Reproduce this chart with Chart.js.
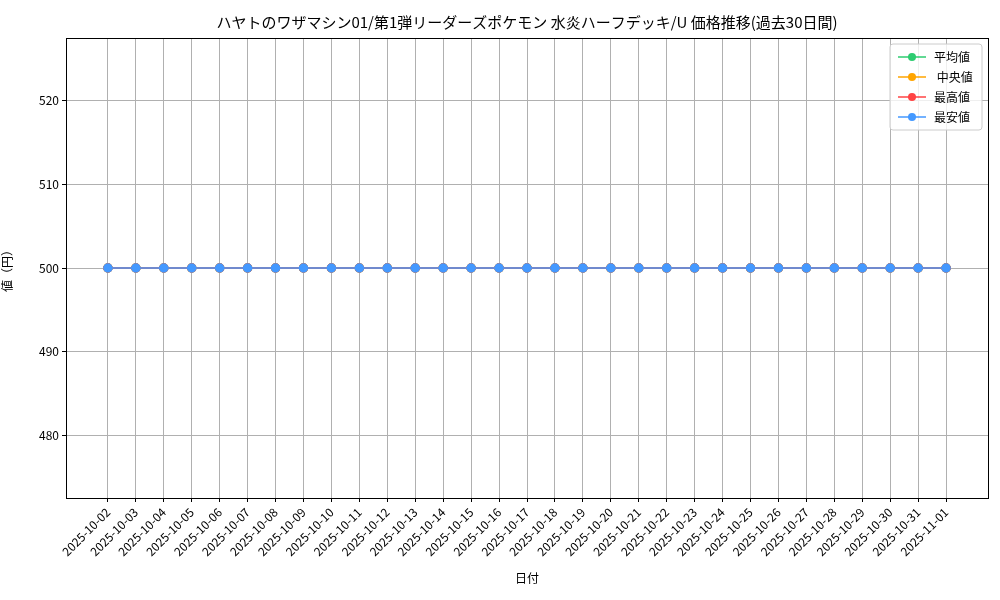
<!DOCTYPE html>
<html>
<head>
<meta charset="utf-8">
<script src="https://cdn.jsdelivr.net/npm/chart.js@4"></script>
<style>
  body { margin: 0; background: #fff; }
  #wrap { width: 1000px; height: 600px; }
</style>
</head>
<body>
<div id="wrap"><canvas id="chart" width="1000" height="600"></canvas></div>
<script>
const FONT = "'Noto Sans CJK JP', 'DejaVu Sans', sans-serif";
const TITLE = "ハヤトのワザマシン01/第1弾リーダーズポケモン 水炎ハーフデッキ/U 価格推移(過去30日間)";

const dates = [
  "2025-10-02", "2025-10-03", "2025-10-04", "2025-10-05", "2025-10-06", "2025-10-07",
  "2025-10-08", "2025-10-09", "2025-10-10", "2025-10-11", "2025-10-12", "2025-10-13",
  "2025-10-14", "2025-10-15", "2025-10-16", "2025-10-17", "2025-10-18", "2025-10-19",
  "2025-10-20", "2025-10-21", "2025-10-22", "2025-10-23", "2025-10-24", "2025-10-25",
  "2025-10-26", "2025-10-27", "2025-10-28", "2025-10-29", "2025-10-30", "2025-10-31",
  "2025-11-01",
];
const avgPrices = [500, 500, 500, 500, 500, 500, 500, 500, 500, 500, 500, 500, 500, 500, 500, 500,
  500, 500, 500, 500, 500, 500, 500, 500, 500, 500, 500, 500, 500, 500, 500];
const medianPrices = [500, 500, 500, 500, 500, 500, 500, 500, 500, 500, 500, 500, 500, 500, 500, 500,
  500, 500, 500, 500, 500, 500, 500, 500, 500, 500, 500, 500, 500, 500, 500];
const maxPrices = [500, 500, 500, 500, 500, 500, 500, 500, 500, 500, 500, 500, 500, 500, 500, 500,
  500, 500, 500, 500, 500, 500, 500, 500, 500, 500, 500, 500, 500, 500, 500];
const minPrices = [500, 500, 500, 500, 500, 500, 500, 500, 500, 500, 500, 500, 500, 500, 500, 500,
  500, 500, 500, 500, 500, 500, 500, 500, 500, 500, 500, 500, 500, 500, 500];
const yTicks = [480, 490, 500, 510, 520];

// order: 小さいほど手前に描かれる(最安値が一番上)
function series(label, values, color, order) {
  return {
    label: label,
    data: values.map((v, i) => ({ x: i, y: v })),
    borderColor: color,
    backgroundColor: color,
    borderWidth: 1.5,
    pointRadius: 4,
    pointHoverRadius: 4,
    tension: 0,
    order: order,
  };
}

// タイトル・枠線・凡例を描くプラグイン
const extras = {
  id: "extras",
  afterDraw(chart) {
    const ctx = chart.ctx;
    const a = chart.chartArea;
    ctx.save();
    ctx.strokeStyle = "#000";
    ctx.lineWidth = 1;
    ctx.strokeRect(a.left + 0.5, a.top + 0.5, a.right - a.left, a.bottom - a.top);

    ctx.fillStyle = "#000";
    ctx.font = "15px " + FONT;
    ctx.textAlign = "center";
    ctx.textBaseline = "middle";
    ctx.fillText(TITLE, (a.left + a.right) / 2, 22);

    // 凡例
    const items = [...chart.data.datasets].sort((p, q) => q.order - p.order);
    const bw = 92, bh = 86;
    const bx = a.right - bw - 6, by = a.top + 6;
    ctx.fillStyle = "rgba(255,255,255,0.8)";
    ctx.strokeStyle = "#ccc";
    ctx.beginPath();
    ctx.roundRect(bx, by, bw, bh, 3);
    ctx.fill();
    ctx.stroke();
    ctx.font = "12px " + FONT;
    ctx.textAlign = "left";
    items.forEach((ds, i) => {
      const y = by + 13 + i * 20;
      ctx.strokeStyle = ds.borderColor;
      ctx.lineWidth = 1.5;
      ctx.beginPath();
      ctx.moveTo(bx + 8, y);
      ctx.lineTo(bx + 36, y);
      ctx.stroke();
      ctx.fillStyle = ds.borderColor;
      ctx.beginPath();
      ctx.arc(bx + 22, y, 4, 0, Math.PI * 2);
      ctx.fill();
      ctx.fillStyle = "#000";
      ctx.fillText(ds.label, bx + 44, y);
    });
    ctx.restore();
  },
};

new Chart(document.getElementById("chart"), {
  type: "line",
  data: {
    datasets: [
      series("平均値", avgPrices, "#2ecc71", 3),
      series(" 中央値", medianPrices, "#ffa500", 2),
      series("最高値", maxPrices, "#ff4444", 1),
      series("最安値", minPrices, "#4499ff", 0),
    ],
  },
  options: {
    responsive: false,
    animation: false,
    layout: { padding: { top: 38, right: 12, left: 0, bottom: 0 } },
    plugins: { legend: { display: false }, title: { display: false }, tooltip: { enabled: false } },
    scales: {
      x: {
        type: "linear",
        min: -1.5,
        max: 31.5,
        afterFit(s) { s.height = 102; },
        afterBuildTicks(s) { s.ticks = dates.map((d, i) => ({ value: i })); },
        ticks: {
          autoSkip: false,
          minRotation: 45,
          maxRotation: 45,
          color: "#000",
          font: { family: FONT, size: 12 },
          callback: (v) => dates[v],
        },
        grid: { color: "#b0b0b0", tickColor: "#000", tickLength: 4 },
        border: { color: "#000" },
        title: { display: true, text: "日付", color: "#000", font: { family: FONT, size: 12 }, padding: { top: 0, bottom: 14 } },
      },
      y: {
        min: 472.5,
        max: 527.5,
        afterFit(s) { s.width = 66; },
        afterBuildTicks(s) { s.ticks = yTicks.map((v) => ({ value: v })); },
        ticks: { color: "#000", font: { family: FONT, size: 12 } },
        grid: { color: "#b0b0b0", tickColor: "#000", tickLength: 4 },
        border: { color: "#000" },
        title: { display: true, text: "値（円）", color: "#000", font: { family: FONT, size: 12 }, padding: { top: 0, bottom: 0, left: 10 } },
      },
    },
  },
  plugins: [extras],
});
</script>
</body>
</html>
